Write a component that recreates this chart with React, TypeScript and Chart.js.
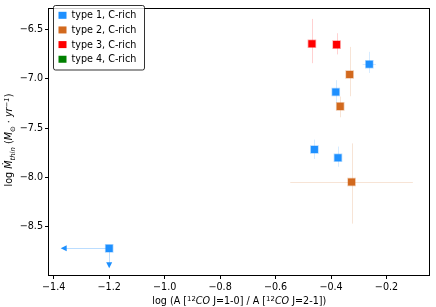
import React, { useEffect, useRef } from 'react';
import { Chart, registerables } from 'chart.js';
Chart.register(...registerables);

// ---- axes ----
const xTicks = [-1.4, -1.2, -1.0, -0.8, -0.6, -0.4, -0.2];
const yTicks = [-8.5, -8.0, -7.5, -7.0, -6.5];
const xMin = -1.417;
const xMax = -0.045;
const yMin = -8.987;
const yMax = -6.278;

// ---- series ----
const seriesLabels = ['type 1, C-rich', 'type 2, C-rich', 'type 3, C-rich', 'type 4, C-rich'];
const seriesColors = ['#1E90FF', '#D2691E', '#FF0000', '#008000'];

const type1X = [-0.262, -0.383, -0.46, -0.375, -1.2];
const type1Y = [-6.85, -7.132, -7.715, -7.798, -8.717];
const type1XErr = [0.024, 0, 0, 0, 0.164];
const type1YErrUp = [0.125, 0.12, 0.1, 0.113, 0];
const type1YErrDown = [0.089, 0.109, 0.096, 0.092, 0.171];
const type1XUpLim = [false, false, false, false, true];
const type1YUpLim = [false, false, false, false, true];

const type2X = [-0.333, -0.367, -0.326];
const type2Y = [-6.955, -7.278, -8.045];
const type2XErr = [0, 0, 0.221];
const type2YErrUp = [0.28, 0.1, 0.392];
const type2YErrDown = [0.22, 0.11, 0.421];
const type2XUpLim = [false, false, false];
const type2YUpLim = [false, false, false];

const type3X = [-0.469, -0.38];
const type3Y = [-6.642, -6.652];
const type3XErr = [0, 0];
const type3YErrUp = [0.251, 0.116];
const type3YErrDown = [0.198, 0.099];
const type3XUpLim = [false, false];
const type3YUpLim = [false, false];

const type4X: number[] = [];
const type4Y: number[] = [];
const type4XErr: number[] = [];
const type4YErrUp: number[] = [];
const type4YErrDown: number[] = [];
const type4XUpLim: boolean[] = [];
const type4YUpLim: boolean[] = [];

const series = [
  { x: type1X, y: type1Y, xe: type1XErr, yu: type1YErrUp, yd: type1YErrDown, xl: type1XUpLim, yl: type1YUpLim },
  { x: type2X, y: type2Y, xe: type2XErr, yu: type2YErrUp, yd: type2YErrDown, xl: type2XUpLim, yl: type2YUpLim },
  { x: type3X, y: type3Y, xe: type3XErr, yu: type3YErrUp, yd: type3YErrDown, xl: type3XUpLim, yl: type3YUpLim },
  { x: type4X, y: type4Y, xe: type4XErr, yu: type4YErrUp, yd: type4YErrDown, xl: type4XUpLim, yl: type4YUpLim },
];

const FAM = '"DejaVu Sans", sans-serif';
const FS = 9.6;

function rgba(hex: string, a: number) {
  const n = parseInt(hex.slice(1), 16);
  return `rgba(${(n >> 16) & 255},${(n >> 8) & 255},${n & 255},${a})`;
}

type Part = { t: string; it?: boolean; sub?: boolean; sup?: boolean };

function drawRich(ctx: CanvasRenderingContext2D, parts: Part[], cx: number, cy: number, rot: number) {
  const fontFor = (p: Part) => `${p.it ? 'italic ' : ''}${p.sub || p.sup ? FS * 0.72 : FS}px ${FAM}`;
  let total = 0;
  const widths = parts.map((p) => {
    ctx.font = fontFor(p);
    const w = ctx.measureText(p.t).width;
    total += w;
    return w;
  });
  ctx.save();
  ctx.translate(cx, cy);
  ctx.rotate(rot);
  ctx.fillStyle = '#000';
  ctx.textBaseline = 'alphabetic';
  ctx.textAlign = 'left';
  let x = -total / 2;
  const base = FS * 0.36;
  parts.forEach((p, i) => {
    ctx.font = fontFor(p);
    const dy = p.sub ? FS * 0.22 : p.sup ? -FS * 0.38 : 0;
    ctx.fillText(p.t, x, base + dy);
    x += widths[i];
  });
  ctx.restore();
}

const xLabelParts: Part[] = [
  { t: 'log (A [' },
  { t: '12', sup: true },
  { t: 'CO', it: true },
  { t: ' J=1-0] / A [' },
  { t: '12', sup: true },
  { t: 'CO', it: true },
  { t: ' J=2-1])' },
];

const yLabelParts: Part[] = [
  { t: 'log ' },
  { t: 'Ṁ', it: true },
  { t: 'thin', it: true, sub: true },
  { t: ' (' },
  { t: 'M', it: true },
  { t: '⊙', sub: true },
  { t: ' · ' },
  { t: 'yr', it: true },
  { t: '−1', it: true, sup: true },
  { t: ')' },
];

const decorPlugin = {
  id: 'decor',
  beforeDatasetsDraw(chart: any) {
    const ctx: CanvasRenderingContext2D = chart.ctx;
    const xs = chart.scales.x;
    const ys = chart.scales.y;
    series.forEach((s, i) => {
      const col = seriesColors[i];
      s.x.forEach((xv, j) => {
        const yv = s.y[j];
        const px = xs.getPixelForValue(xv);
        const py = ys.getPixelForValue(yv);
        ctx.save();
        ctx.lineWidth = 1;
        ctx.strokeStyle = rgba(col, s.xl[j] || s.yl[j] ? 0.3 : 0.18);
        if (s.xe[j] > 0) {
          const x1 = xs.getPixelForValue(xv - s.xe[j]);
          const x2 = s.xl[j] ? px : xs.getPixelForValue(xv + s.xe[j]);
          ctx.beginPath();
          ctx.moveTo(x1, Math.round(py) + 0.5);
          ctx.lineTo(x2, Math.round(py) + 0.5);
          ctx.stroke();
          if (s.xl[j]) {
            ctx.fillStyle = col;
            ctx.beginPath();
            ctx.moveTo(x1 - 3, py);
            ctx.lineTo(x1 + 3, py - 3);
            ctx.lineTo(x1 + 3, py + 3);
            ctx.closePath();
            ctx.fill();
          }
        }
        const y1 = ys.getPixelForValue(yv - s.yd[j]);
        const y2 = ys.getPixelForValue(yv + s.yu[j]);
        ctx.beginPath();
        ctx.moveTo(Math.round(px) + 0.5, y1);
        ctx.lineTo(Math.round(px) + 0.5, y2);
        ctx.stroke();
        if (s.yl[j]) {
          ctx.fillStyle = col;
          ctx.beginPath();
          ctx.moveTo(px, y1 + 3);
          ctx.lineTo(px - 3, y1 - 3);
          ctx.lineTo(px + 3, y1 - 3);
          ctx.closePath();
          ctx.fill();
        }
        ctx.restore();
      });
    });
  },
  afterDraw(chart: any) {
    const ctx: CanvasRenderingContext2D = chart.ctx;
    const a = chart.chartArea;
    ctx.save();
    ctx.strokeStyle = '#000';
    ctx.lineWidth = 1;
    ctx.strokeRect(Math.round(a.left) - 0.5, Math.round(a.top) + 0.5, Math.round(a.right) - Math.round(a.left), Math.round(a.bottom) - Math.round(a.top));
    const lx = 53.5, ly = 5.5, lw = 91, lh = 64.5, r = 2;
    ctx.beginPath();
    ctx.moveTo(lx + r, ly);
    ctx.lineTo(lx + lw - r, ly);
    ctx.quadraticCurveTo(lx + lw, ly, lx + lw, ly + r);
    ctx.lineTo(lx + lw, ly + lh - r);
    ctx.quadraticCurveTo(lx + lw, ly + lh, lx + lw - r, ly + lh);
    ctx.lineTo(lx + r, ly + lh);
    ctx.quadraticCurveTo(lx, ly + lh, lx, ly + lh - r);
    ctx.lineTo(lx, ly + r);
    ctx.quadraticCurveTo(lx, ly, lx + r, ly);
    ctx.closePath();
    ctx.fillStyle = 'rgba(255,255,255,0.8)';
    ctx.fill();
    ctx.strokeStyle = 'rgba(0,0,0,0.8)';
    ctx.stroke();
    ctx.font = `${FS}px ${FAM}`;
    ctx.textBaseline = 'middle';
    ctx.textAlign = 'left';
    seriesLabels.forEach((lab, i) => {
      const cy = 15.3 + i * 14.65;
      ctx.fillStyle = seriesColors[i];
      ctx.fillRect(58.5, cy - 3.5, 8, 7);
      ctx.fillStyle = '#000';
      ctx.fillText(lab, 71.5, cy + 0.5);
    });
    drawRich(ctx, xLabelParts, (a.left + a.right) / 2, 301, 0);
    drawRich(ctx, yLabelParts, 9, 140, -Math.PI / 2);
    ctx.restore();
  },
};

const fmt = (v: number) => v.toFixed(1).replace('-', '−');

export default function App() {
  const ref = useRef<HTMLCanvasElement>(null);
  useEffect(() => {
    if (!ref.current) return;
    const chart = new Chart(ref.current, {
      type: 'scatter',
      data: {
        datasets: series.map((s, i) => ({
          label: seriesLabels[i],
          data: s.x.map((xv, j) => ({ x: xv, y: s.y[j] })),
          backgroundColor: seriesColors[i],
          borderColor: rgba(seriesColors[i], 0.35),
          borderWidth: 1.5,
          pointStyle: 'rect',
          pointRadius: 5,
          pointHoverRadius: 5,
        })),
      },
      options: {
        animation: false,
        responsive: false,
        devicePixelRatio: 1,
        layout: { padding: { top: 1, right: 2, left: 0, bottom: 0 } },
        plugins: { legend: { display: false }, tooltip: { enabled: false } },
        events: [],
        scales: {
          x: {
            type: 'linear',
            min: xMin,
            max: xMax,
            border: { display: false },
            grid: { display: true, drawOnChartArea: false, drawTicks: true, tickLength: 4, tickColor: '#000', tickWidth: 1 },
            ticks: { font: { family: FAM, size: FS }, color: '#000', padding: 3, callback: (v: any) => fmt(Number(v)), maxRotation: 0 },
            afterBuildTicks: (sc: any) => { sc.ticks = xTicks.map((v) => ({ value: v })); },
            afterFit: (sc: any) => { sc.height = 32; },
          },
          y: {
            type: 'linear',
            min: yMin,
            max: yMax,
            border: { display: false },
            grid: { display: true, drawOnChartArea: false, drawTicks: true, tickLength: 4, tickColor: '#000', tickWidth: 1 },
            ticks: { font: { family: FAM, size: FS }, color: '#000', padding: 2, callback: (v: any) => fmt(Number(v)) },
            afterBuildTicks: (sc: any) => { sc.ticks = yTicks.map((v) => ({ value: v })); },
            afterFit: (sc: any) => { sc.width = 49; },
          },
        },
      },
      plugins: [decorPlugin],
    } as any);
    return () => chart.destroy();
  }, []);
  return (
    <div style={{ position: 'fixed', left: 0, top: 0, width: 436, height: 307, background: '#fff' }}>
      <canvas ref={ref} width={436} height={307} style={{ width: 436, height: 307, display: 'block' }} />
    </div>
  );
}
